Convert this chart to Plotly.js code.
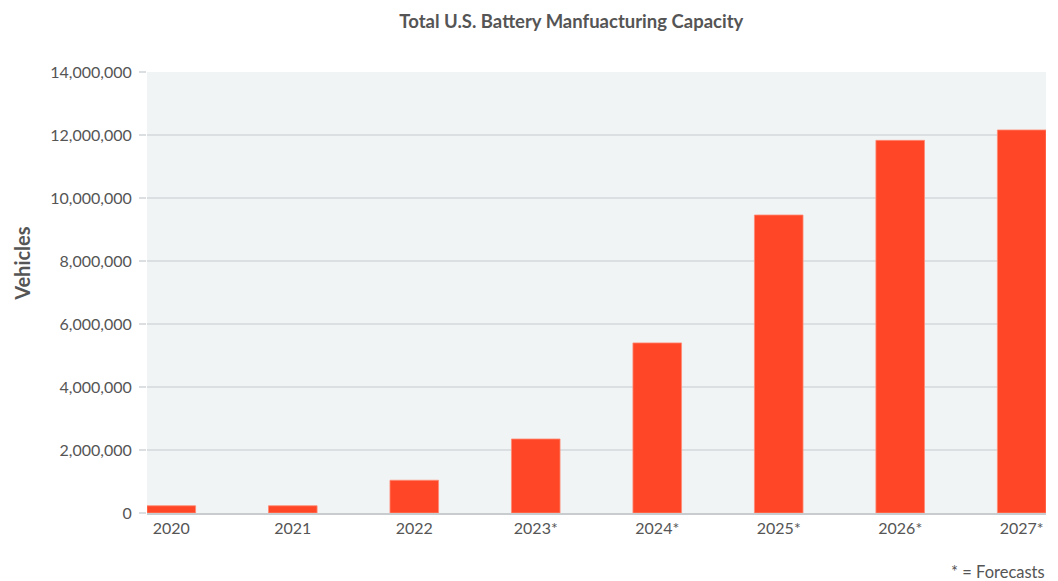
<!DOCTYPE html>
<html>
<head>
<meta charset="utf-8">
<script src="https://cdn.plot.ly/plotly-3.0.1.min.js"></script>
<style>html,body{margin:0;padding:0;background:#fff;}#chart{width:1058px;height:581px;}</style>
</head>
<body>
<div id="chart"></div>
<script>
var years = ["2020", "2021", "2022", "2023*", "2024*", "2025*", "2026*", "2027*"];
var capacity = [230000, 230000, 1040000, 2350000, 5400000, 9460000, 11830000, 12160000];
var yTickVals = [0, 2000000, 4000000, 6000000, 8000000, 10000000, 12000000, 14000000];
var yTickText = ["0", "2,000,000", "4,000,000", "6,000,000", "8,000,000", "10,000,000", "12,000,000", "14,000,000"];

var font = "Lato, 'Open Sans', sans-serif";
var trace = {
  type: "bar",
  x: years,
  y: capacity,
  width: 0.4,
  marker: {color: "#FF4626", line: {color: "#FF8A75", width: 0.8}},
  hoverinfo: "x+y"
};
var layout = {
  width: 1058, height: 581,
  margin: {l: 147, r: 12, t: 72, b: 68},
  paper_bgcolor: "#ffffff",
  plot_bgcolor: "#F1F4F5",
  showlegend: false,
  title: {text: "<b>Total U.S. Battery Manfuacturing Capacity</b>", x: 0.54, xanchor: "center", y: 0.963, yanchor: "middle",
          font: {family: font, size: 18.5, color: "#555555"}},
  xaxis: {
    type: "category", range: [-0.2, 7.2],
    showgrid: false, zeroline: false,
    showline: true, linecolor: "#C9CCCE", linewidth: 1.5,
    ticks: "", tickfont: {family: font, size: 16, color: "#555555"},
    fixedrange: true
  },
  yaxis: {
    range: [0, 14000000],
    tickvals: yTickVals, ticktext: yTickText,
    showgrid: true, gridcolor: "#DCDFE1", gridwidth: 1.5,
    zeroline: false, showline: false,
    ticks: "outside", ticklen: 7, tickcolor: "#DCDFE1", tickwidth: 1.5,
    ticklabelstandoff: 4,
    tickfont: {family: font, size: 16, color: "#555555"},
    fixedrange: true
  },
  annotations: [{
    text: "* = Forecasts", xref: "paper", yref: "paper", x: 1.001, xanchor: "right", y: -0.134, yanchor: "middle",
    showarrow: false, font: {family: font, size: 16.5, color: "#555555"}
  }, {
    text: "<b>Vehicles</b>", xref: "paper", yref: "paper", x: -0.139, xanchor: "center", y: 0.565, yanchor: "middle",
    textangle: -90, showarrow: false, font: {family: font, size: 20, color: "#555555"}
  }]
};
Plotly.newPlot("chart", [trace], layout, {displayModeBar: false, staticPlot: true});
</script>
</body>
</html>
